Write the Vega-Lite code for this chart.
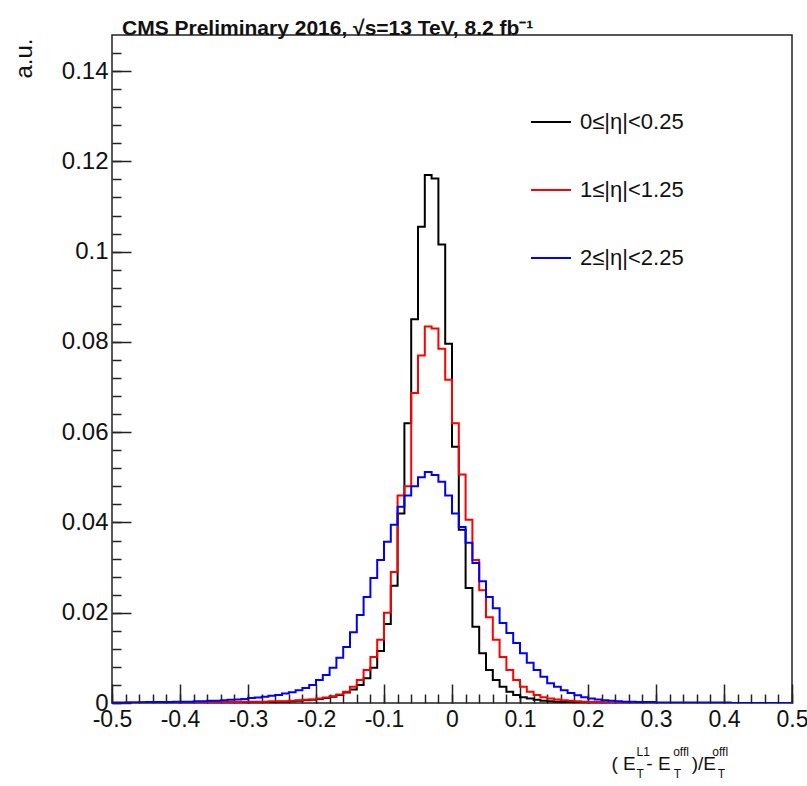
{
"$schema": "https://vega.github.io/schema/vega-lite/v6.json",
"width": 680, "height": 668,
"autosize": {"type": "none"},
"padding": {"left": 112, "top": 35, "right": 15, "bottom": 83},
"background": "white",
"config": {
  "view": {"stroke": "#222", "strokeWidth": 1.5},
  "font": "Liberation Sans",
  "axis": {"grid": false, "domain": false, "tickColor": "#222", "tickWidth": 1.5, "labelColor": "#111", "titleColor": "#111", "labelFont": "Liberation Sans", "titleFont": "Liberation Sans", "titleFontWeight": "normal"}
},
"title": {"text": "CMS Preliminary 2016, √s=13 TeV, 8.2 fb⁻¹", "anchor": "start", "frame": "group", "font": "Liberation Sans Narrow, Liberation Sans", "fontSize": 21, "fontWeight": "bold", "color": "#111", "dx": 10, "dy": 26, "offset": 5, "baseline": "alphabetic"},
"data": {"values": [
{"x":-0.50,"eta0":0,"eta1":0,"eta2":0.0001},
{"x":-0.49,"eta0":0,"eta1":0,"eta2":0.0001},
{"x":-0.48,"eta0":0,"eta1":0.0001,"eta2":0.0001},
{"x":-0.47,"eta0":0,"eta1":0.0001,"eta2":0.0001},
{"x":-0.46,"eta0":0.0001,"eta1":0.0001,"eta2":0.0001},
{"x":-0.45,"eta0":0.0001,"eta1":0.0001,"eta2":0.0002},
{"x":-0.44,"eta0":0.0001,"eta1":0.0001,"eta2":0.0002},
{"x":-0.43,"eta0":0.0001,"eta1":0.0001,"eta2":0.0002},
{"x":-0.42,"eta0":0.0001,"eta1":0.0001,"eta2":0.0002},
{"x":-0.41,"eta0":0.0001,"eta1":0.0001,"eta2":0.0003},
{"x":-0.40,"eta0":0.0001,"eta1":0.0001,"eta2":0.0003},
{"x":-0.39,"eta0":0.0001,"eta1":0.0001,"eta2":0.0003},
{"x":-0.38,"eta0":0.0001,"eta1":0.0001,"eta2":0.0004},
{"x":-0.37,"eta0":0.0001,"eta1":0.0002,"eta2":0.0004},
{"x":-0.36,"eta0":0.0001,"eta1":0.0002,"eta2":0.0005},
{"x":-0.35,"eta0":0.0001,"eta1":0.0002,"eta2":0.0005},
{"x":-0.34,"eta0":0.0001,"eta1":0.0002,"eta2":0.0006},
{"x":-0.33,"eta0":0.0001,"eta1":0.0002,"eta2":0.0007},
{"x":-0.32,"eta0":0.0001,"eta1":0.0002,"eta2":0.0008},
{"x":-0.31,"eta0":0.0002,"eta1":0.0003,"eta2":0.0009},
{"x":-0.30,"eta0":0.0002,"eta1":0.0003,"eta2":0.0011},
{"x":-0.29,"eta0":0.0002,"eta1":0.0003,"eta2":0.0012},
{"x":-0.28,"eta0":0.0002,"eta1":0.0003,"eta2":0.0014},
{"x":-0.27,"eta0":0.0002,"eta1":0.0004,"eta2":0.0016},
{"x":-0.26,"eta0":0.0003,"eta1":0.0004,"eta2":0.0018},
{"x":-0.25,"eta0":0.0003,"eta1":0.0004,"eta2":0.0021},
{"x":-0.24,"eta0":0.0004,"eta1":0.0005,"eta2":0.0024},
{"x":-0.23,"eta0":0.0005,"eta1":0.0006,"eta2":0.0028},
{"x":-0.22,"eta0":0.0006,"eta1":0.0007,"eta2":0.0033},
{"x":-0.21,"eta0":0.0007,"eta1":0.0008,"eta2":0.0040},
{"x":-0.20,"eta0":0.0009,"eta1":0.0010,"eta2":0.0051},
{"x":-0.19,"eta0":0.0011,"eta1":0.0012,"eta2":0.0062},
{"x":-0.18,"eta0":0.0014,"eta1":0.0015,"eta2":0.0078},
{"x":-0.17,"eta0":0.0018,"eta1":0.0019,"eta2":0.0100},
{"x":-0.16,"eta0":0.0023,"eta1":0.0025,"eta2":0.0124},
{"x":-0.15,"eta0":0.0030,"eta1":0.0036,"eta2":0.0157},
{"x":-0.14,"eta0":0.0040,"eta1":0.0051,"eta2":0.0195},
{"x":-0.13,"eta0":0.0055,"eta1":0.0073,"eta2":0.0235},
{"x":-0.12,"eta0":0.0078,"eta1":0.0102,"eta2":0.0277},
{"x":-0.11,"eta0":0.0115,"eta1":0.0140,"eta2":0.0317},
{"x":-0.10,"eta0":0.0175,"eta1":0.0200,"eta2":0.0357},
{"x":-0.09,"eta0":0.0260,"eta1":0.0290,"eta2":0.0395},
{"x":-0.08,"eta0":0.0420,"eta1":0.0460,"eta2":0.0435},
{"x":-0.07,"eta0":0.0620,"eta1":0.0480,"eta2":0.0460},
{"x":-0.06,"eta0":0.0850,"eta1":0.0687,"eta2":0.0480},
{"x":-0.05,"eta0":0.1055,"eta1":0.0770,"eta2":0.0500},
{"x":-0.04,"eta0":0.1170,"eta1":0.0834,"eta2":0.0512},
{"x":-0.03,"eta0":0.1162,"eta1":0.0830,"eta2":0.0505},
{"x":-0.02,"eta0":0.1016,"eta1":0.0785,"eta2":0.0490},
{"x":-0.01,"eta0":0.0796,"eta1":0.0716,"eta2":0.0460},
{"x":0.00,"eta0":0.0568,"eta1":0.0620,"eta2":0.0420},
{"x":0.01,"eta0":0.0384,"eta1":0.0506,"eta2":0.0390},
{"x":0.02,"eta0":0.0255,"eta1":0.0406,"eta2":0.0355},
{"x":0.03,"eta0":0.0169,"eta1":0.0317,"eta2":0.0310},
{"x":0.04,"eta0":0.0110,"eta1":0.0250,"eta2":0.0270},
{"x":0.05,"eta0":0.0073,"eta1":0.0190,"eta2":0.0235},
{"x":0.06,"eta0":0.0051,"eta1":0.0140,"eta2":0.0210},
{"x":0.07,"eta0":0.0036,"eta1":0.0102,"eta2":0.0177},
{"x":0.08,"eta0":0.0025,"eta1":0.0073,"eta2":0.0155},
{"x":0.09,"eta0":0.0018,"eta1":0.0051,"eta2":0.0133},
{"x":0.10,"eta0":0.0013,"eta1":0.0036,"eta2":0.0110},
{"x":0.11,"eta0":0.0010,"eta1":0.0025,"eta2":0.0089},
{"x":0.12,"eta0":0.0007,"eta1":0.0018,"eta2":0.0073},
{"x":0.13,"eta0":0.0005,"eta1":0.0013,"eta2":0.0058},
{"x":0.14,"eta0":0.0004,"eta1":0.0010,"eta2":0.0044},
{"x":0.15,"eta0":0.0003,"eta1":0.0008,"eta2":0.0036},
{"x":0.16,"eta0":0.0002,"eta1":0.0006,"eta2":0.0028},
{"x":0.17,"eta0":0.0002,"eta1":0.0005,"eta2":0.0022},
{"x":0.18,"eta0":0.0001,"eta1":0.0004,"eta2":0.0017},
{"x":0.19,"eta0":0.0001,"eta1":0.0003,"eta2":0.0013},
{"x":0.20,"eta0":0.0001,"eta1":0.0002,"eta2":0.0010},
{"x":0.21,"eta0":0.0001,"eta1":0.0002,"eta2":0.0008},
{"x":0.22,"eta0":0.0001,"eta1":0.0001,"eta2":0.0006},
{"x":0.23,"eta0":0,"eta1":0.0001,"eta2":0.0005},
{"x":0.24,"eta0":0,"eta1":0.0001,"eta2":0.0004},
{"x":0.25,"eta0":0,"eta1":0.0001,"eta2":0.0003},
{"x":0.26,"eta0":0,"eta1":0.0001,"eta2":0.0003},
{"x":0.27,"eta0":0,"eta1":0,"eta2":0.0002},
{"x":0.28,"eta0":0,"eta1":0,"eta2":0.0002},
{"x":0.29,"eta0":0,"eta1":0,"eta2":0.0002},
{"x":0.30,"eta0":0,"eta1":0,"eta2":0.0001},
{"x":0.31,"eta0":0,"eta1":0,"eta2":0.0001},
{"x":0.32,"eta0":0,"eta1":0,"eta2":0.0001},
{"x":0.33,"eta0":0,"eta1":0,"eta2":0.0001},
{"x":0.34,"eta0":0,"eta1":0,"eta2":0.0001},
{"x":0.35,"eta0":0,"eta1":0,"eta2":0.0001},
{"x":0.36,"eta0":0,"eta1":0,"eta2":0.0001},
{"x":0.37,"eta0":0,"eta1":0,"eta2":0.0001},
{"x":0.38,"eta0":0,"eta1":0,"eta2":0.0001},
{"x":0.39,"eta0":0,"eta1":0,"eta2":0.0001},
{"x":0.40,"eta0":0,"eta1":0,"eta2":0.0001},
{"x":0.41,"eta0":0,"eta1":0,"eta2":0},
{"x":0.42,"eta0":0,"eta1":0,"eta2":0},
{"x":0.43,"eta0":0,"eta1":0,"eta2":0},
{"x":0.44,"eta0":0,"eta1":0,"eta2":0},
{"x":0.45,"eta0":0,"eta1":0,"eta2":0},
{"x":0.46,"eta0":0,"eta1":0,"eta2":0},
{"x":0.47,"eta0":0,"eta1":0,"eta2":0},
{"x":0.48,"eta0":0,"eta1":0,"eta2":0},
{"x":0.49,"eta0":0,"eta1":0,"eta2":0},
{"x":0.50,"eta0":0,"eta1":0,"eta2":0}
]},
"resolve": {"axis": {"x": "independent", "y": "independent"}},
"layer": [
  {
    "transform": [{"fold": ["eta0", "eta1", "eta2"], "as": ["series", "value"]}],
    "mark": {"type": "line", "interpolate": "step-after", "strokeWidth": 2, "clip": true},
    "encoding": {
      "x": {"field": "x", "type": "quantitative", "scale": {"domain": [-0.5, 0.5], "nice": false, "zero": false},
        "axis": {"orient": "bottom", "values": [-0.5,-0.4,-0.3,-0.2,-0.1,0,0.1,0.2,0.3,0.4,0.5], "tickSize": -19, "labelPadding": 24, "labelFontSize": 23,
          "labelExpr": "replace(format(datum.value, '.1~f'), '\u2212', '-')", "labelOverlap": false, "labelFlush": false, "labelBound": false,
          "title": "(\u00a0E\u00a0\u00a0-\u00a0E\u00a0\u00a0\u00a0\u00a0)/E", "titleFontSize": 19, "titleAlign": "left", "titleX": 499, "titleY": 66, "titleBaseline": "alphabetic"}},
      "y": {"field": "value", "type": "quantitative", "scale": {"domain": [0, 0.148], "nice": false},
        "axis": {"orient": "left", "values": [0,0.02,0.04,0.06,0.08,0.1,0.12,0.14], "tickSize": -19, "labelPadding": 23, "labelFontSize": 24, "format": "~g",
          "labelOverlap": false, "labelFlush": false, "labelBound": false,
          "title": "a.u.", "titleFontSize": 24, "titleAngle": 270, "titleAlign": "right", "titleBaseline": "middle", "titleX": -88, "titleY": 3}},
      "color": {"field": "series", "type": "nominal", "scale": {"domain": ["eta0", "eta1", "eta2"], "range": ["#000000", "#ff0000", "#0000ff"]},
        "legend": {"title": null, "orient": "none", "legendX": 418, "legendY": 66, "symbolType": "stroke", "symbolSize": 1600, "symbolStrokeWidth": 2,
          "labelFontSize": 22, "labelFont": "Liberation Sans", "labelColor": "#111", "labelOffset": 8, "rowPadding": 36, "padding": 0, "labelLimit": 300,
          "labelExpr": "datum.label == 'eta0' ? '0≤|η|<0.25' : datum.label == 'eta1' ? '1≤|η|<1.25' : '2≤|η|<2.25'"}}
    }
  },
  {
    "mark": {"type": "point", "opacity": 0},
    "encoding": {
      "x": {"field": "x", "type": "quantitative",
        "axis": {"orient": "bottom", "values": [-0.5,-0.48,-0.46,-0.44,-0.42,-0.4,-0.38,-0.36,-0.34,-0.32,-0.3,-0.28,-0.26,-0.24,-0.22,-0.2,-0.18,-0.16,-0.14,-0.12,-0.1,-0.08,-0.06,-0.04,-0.02,0,0.02,0.04,0.06,0.08,0.1,0.12,0.14,0.16,0.18,0.2,0.22,0.24,0.26,0.28,0.3,0.32,0.34,0.36,0.38,0.4,0.42,0.44,0.46,0.48,0.5],
          "tickSize": -9, "labels": false,
          "title": ["L1\u00a0\u00a0\u00a0\u00a0\u00a0\u00a0\u00a0offl\u00a0\u00a0\u00a0\u00a0\u00a0\u00a0\u00a0offl", "T\u00a0\u00a0\u00a0\u00a0\u00a0\u00a0\u00a0\u00a0\u00a0T\u00a0\u00a0\u00a0\u00a0\u00a0\u00a0\u00a0\u00a0\u00a0\u00a0\u00a0T"],
          "titleFontSize": 12, "titleLineHeight": 22, "titleAlign": "left", "titleX": 524, "titleY": 52, "titleBaseline": "alphabetic"}},
      "y": {"field": "eta2", "type": "quantitative",
        "axis": {"orient": "left", "values": [0,0.004,0.008,0.012,0.016,0.02,0.024,0.028,0.032,0.036,0.04,0.044,0.048,0.052,0.056,0.06,0.064,0.068,0.072,0.076,0.08,0.084,0.088,0.092,0.096,0.1,0.104,0.108,0.112,0.116,0.12,0.124,0.128,0.132,0.136,0.14,0.144],
          "tickSize": -9, "labels": false, "title": null}}
    }
  }
]
}
